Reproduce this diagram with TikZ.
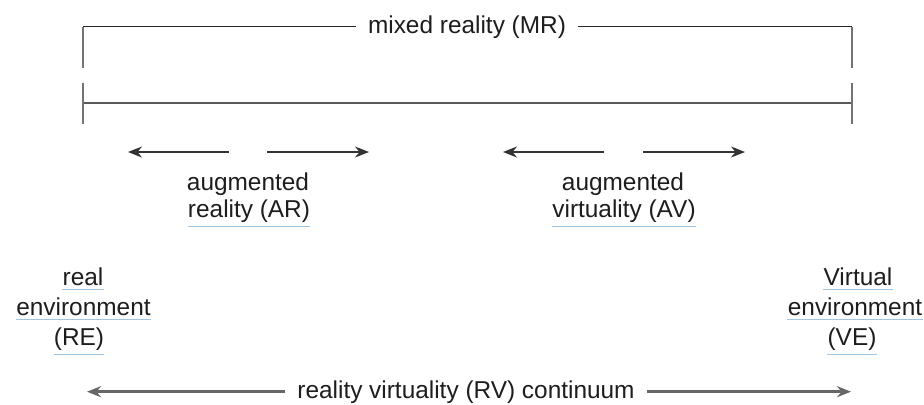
\documentclass[tikz,border=0pt]{standalone}
\usepackage{fontspec}
\setmainfont{Liberation Sans}
\usetikzlibrary{arrows.meta}

\definecolor{ulblue}{RGB}{160,198,230}
\definecolor{ink}{RGB}{30,28,28}

\tikzset{
  lbl/.style={inner sep=0pt, anchor=base, text=ink, font=\fontsize{12.2}{14}\selectfont},
  gap/.style={inner xsep=6pt},
  tick/.style={line width=1.1pt, black!55},
  bar/.style={line width=1pt, black!65},
  arr/.style={-{Stealth[length=7pt,width=5.5pt]}, line width=1pt, black!80},
  longarr/.style={-{Stealth[length=7pt,width=5.5pt]}, line width=1.4pt, black!60},
  ulin/.style={draw=ulblue, line width=0.7pt},
}

\begin{document}
\begin{tikzpicture}[x=0.5pt,y=-0.5pt]
  \useasboundingbox (0,0) rectangle (924,404);

  % mixed reality bracket
  \node[lbl, gap] (mr) at (467,33) {mixed reality (MR)};
  \coordinate (mr-l) at (83,68);
  \coordinate (mr-r) at (852,68);
  \draw[line width=0.75pt, black!85] (mr.west) -- (mr.west -| mr-l);
  \draw[line width=0.75pt, black!85] (mr.east) -- (mr.east -| mr-r);
  \draw[tick] (mr.west -| mr-l) -- (mr-l);
  \draw[tick] (mr.east -| mr-r) -- (mr-r);

  % continuum bar
  \coordinate (bar-l) at (83,103);
  \coordinate (bar-r) at (852,103);
  \draw[bar] (bar-l) -- (bar-r);
  \draw[tick] ([yshift=10pt]bar-l) -- ([yshift=-10.5pt]bar-l);
  \draw[tick] ([yshift=10pt]bar-r) -- ([yshift=-10.5pt]bar-r);

  % arrows of AR and AV
  \coordinate (ar-l0) at (229,152); \coordinate (ar-l1) at (128,152);
  \coordinate (ar-r0) at (267,152); \coordinate (ar-r1) at (369,152);
  \coordinate (av-l0) at (604,152); \coordinate (av-l1) at (503,152);
  \coordinate (av-r0) at (643,152); \coordinate (av-r1) at (745,152);
  \draw[arr] (ar-l0) -- (ar-l1);
  \draw[arr] (ar-r0) -- (ar-r1);
  \draw[arr] (av-l0) -- (av-l1);
  \draw[arr] (av-r0) -- (av-r1);

  \node[lbl] (ar-a) at (248,190) {augmented};
  \node[lbl] (ar-b) at (249,217) {reality (AR)};
  \node[lbl] (av-a) at (623,190) {augmented};
  \node[lbl] (av-b) at (624,217) {virtuality (AV)};

  % both ends
  \node[lbl] (re-a) at (83,285) {real\ };
  \node[lbl] (re-b) at (83.5,315) {environment\ };
  \node[lbl] (re-c) at (79,345) {(RE)};
  \node[lbl] (ve-a) at (858,285) {Virtual\ };
  \node[lbl] (ve-b) at (855,315) {environment\ };
  \node[lbl] (ve-c) at (852,345) {(VE)};

  \foreach \n in {ar-b,av-b,re-a,re-b,re-c,ve-a,ve-b,ve-c}
    \draw[ulin] ([yshift=-2pt]\n.south west) -- ([yshift=-2pt]\n.south east);

  % reality virtuality continuum
  \node[lbl, gap] (rv) at (466,398) {reality virtuality (RV) continuum};
  \coordinate (rv-l) at (87,392);
  \coordinate (rv-r) at (851,392);
  \draw[longarr] (rv.west) -- (rv.west -| rv-l);
  \draw[longarr] (rv.east) -- (rv.east -| rv-r);
\end{tikzpicture}
\end{document}
